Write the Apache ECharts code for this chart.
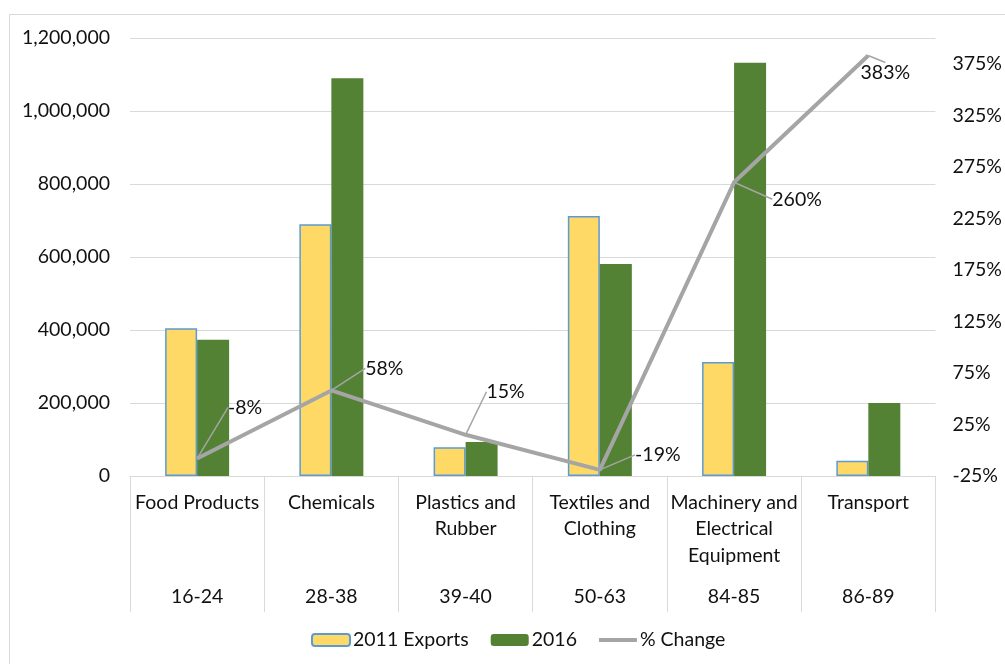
<!DOCTYPE html>
<html>
<head>
<meta charset="utf-8">
<script src="https://cdn.jsdelivr.net/npm/echarts@6/dist/echarts.min.js"></script>
<style>
html, body { margin: 0; padding: 0; background: #fff; }
#chart { width: 1005px; height: 664px; }
</style>
</head>
<body>
<div id="chart"></div>
<script>
// data
var sectors = ['Food Products', 'Chemicals', 'Plastics and\nRubber', 'Textiles and\nClothing', 'Machinery and\nElectrical\nEquipment', 'Transport'];
var hsCodes = ['16-24', '28-38', '39-40', '50-63', '84-85', '86-89'];
var exports2011 = [405000, 690000, 79000, 712000, 312000, 41500];
var exports2016 = [373000, 1090000, 93000, 581000, 1132000, 200000];
var pctChange = [-8, 58, 15, -19, 260, 383];

// where each % label sits relative to its point (style only)
var labelShift = [[48, -51], [53, -22], [40, -43], [58, -15], [63, 17], [17, 17]];

var FONT = 'Lato, "Open Sans", sans-serif';
var FS = 19.5;
var TXT = '#111';

function withCommas(v) {
    return String(v).replace(/\B(?=(\d{3})+(?!\d))/g, ',');
}

var chart = echarts.init(document.getElementById('chart'));
var option = {
    animation: false,
    textStyle: { fontFamily: FONT },
    graphic: [{
        type: 'rect',
        shape: { x: 9.5, y: 14.5, width: 1010, height: 660 },
        style: { fill: 'none', stroke: '#D9D9D9', lineWidth: 1 },
        silent: true
    }],
    grid: { left: 130, right: 67, top: 38, bottom: 188 },
    legend: {
        top: 625,
        left: 306,
        itemWidth: 38,
        itemHeight: 12,
        itemGap: 22,
        textStyle: { fontSize: FS, color: TXT, fontFamily: FONT, padding: [0, 0, 0, -2] },
        data: [
            { name: '2011 Exports' },
            { name: '2016' },
            { name: '% Change', icon: 'path://M0,0H40V4H0Z', itemStyle: { color: '#A5A5A5' } }
        ]
    },
    xAxis: [{
        type: 'category',
        data: sectors,
        axisLine: { lineStyle: { color: '#D9D9D9', width: 1 } },
        axisTick: { show: true, interval: 0, length: 136, lineStyle: { color: '#D9D9D9', width: 1 } },
        axisLabel: {
            interval: 0, margin: 13, fontSize: FS, color: TXT, fontFamily: FONT,
            lineHeight: 26.5
        }
    }, {
        type: 'category',
        data: hsCodes,
        position: 'bottom',
        axisLine: { show: false },
        axisTick: { show: false },
        axisLabel: { interval: 0, margin: 111, fontSize: FS, color: TXT, fontFamily: FONT }
    }],
    yAxis: [{
        type: 'value',
        min: 0,
        max: 1200000,
        interval: 200000,
        axisLine: { show: false },
        axisTick: { show: false },
        splitLine: { lineStyle: { color: '#D9D9D9', width: 1 } },
        axisLabel: { margin: 20, fontSize: FS, color: TXT, fontFamily: FONT, formatter: withCommas }
    }, {
        type: 'value',
        min: -25,
        max: 400,
        interval: 50,
        position: 'right',
        axisLine: { show: false },
        axisTick: { show: false },
        splitLine: { show: false },
        axisLabel: {
            margin: 17, fontSize: FS, color: TXT, fontFamily: FONT, showMaxLabel: false,
            formatter: function (v) { return v + '%'; }
        }
    }],
    series: [{
        name: '2011 Exports',
        type: 'bar',
        data: exports2011,
        barWidth: 32,
        barGap: '0%',
        itemStyle: { color: '#FFD966', borderColor: '#5B9BD5', borderWidth: 1.5 }
    }, {
        name: '2016',
        type: 'bar',
        data: exports2016,
        barWidth: 32,
        itemStyle: { color: '#548235' }
    }, {
        name: '% Change',
        type: 'line',
        yAxisIndex: 1,
        data: pctChange,
        symbol: 'circle',
        symbolSize: 1,
        showSymbol: true,
        lineStyle: { color: '#A5A5A5', width: 4 },
        itemStyle: { color: '#A5A5A5' },
        label: {
            show: true,
            position: 'inside',
            fontSize: FS,
            color: TXT,
            fontFamily: FONT,
            formatter: function (p) { return p.value + '%'; }
        },
        labelLine: { show: true, lineStyle: { color: '#A5A5A5', width: 1.5 } },
        labelLayout: function (p) {
            var s = labelShift[p.dataIndex];
            return { dx: s[0], dy: s[1] };
        }
    }]
};
chart.setOption(option);
</script>
</body>
</html>
